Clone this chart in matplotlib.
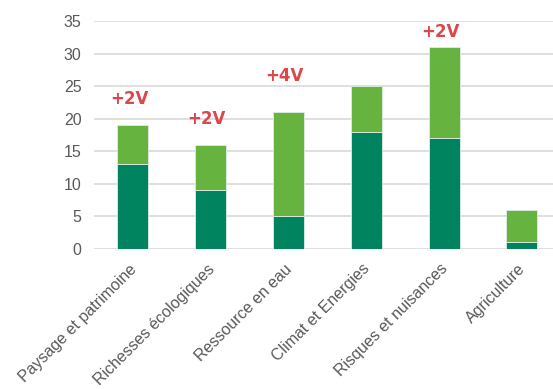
import matplotlib.pyplot as plt
import matplotlib.transforms as mtransforms
import numpy as np

plt.rcParams['font.family'] = ['Liberation Sans', 'DejaVu Sans']

categories = ["Paysage et patrimoine", "Richesses écologiques", "Ressource en eau",
              "Climat et Energies", "Risques et nuisances", "Agriculture"]
base = [13, 9, 5, 18, 17, 1]
extra = [6, 7, 16, 7, 14, 5]
bonus = ["+2V", "+2V", "+4V", "", "+2V", ""]
bonus_y = [23, 20, 26.6, 0, 33.3, 0]

dark = "#00845F"
light = "#66B33F"
red = "#D9484A"

fig = plt.figure(figsize=(5.53, 3.89), dpi=100)
ax = fig.add_axes([0.17, 0.36, 0.83, 0.586])

x = np.arange(len(categories))
ax.bar(x, base, width=0.4, color=dark, edgecolor="#dfeee6", linewidth=0.6, zorder=3)
ax.bar(x, extra, bottom=base, width=0.4, color=light, edgecolor="#dfeee6", linewidth=0.6, zorder=3)

for i, t in enumerate(bonus):
    if t:
        ax.text(x[i] - 0.05, bonus_y[i], t, ha="center", va="center", color=red,
                fontsize=12, fontweight="bold", family=["DejaVu Sans"])

ax.set_xlim(-0.5, 5.4)
ax.set_ylim(0, 35)
ax.set_yticks(range(0, 36, 5))
ax.grid(axis="y", color="#d9d9d9", linewidth=1.2, zorder=0)
ax.set_xticks(x)
ax.set_xticklabels(categories, rotation=45, ha="right", rotation_mode="anchor")
ax.tick_params(axis="both", length=0, labelsize=11.5, labelcolor="#595959")
ax.tick_params(axis="y", pad=9)
ax.tick_params(axis="x", pad=6)
# nudge the slanted labels a little down and left
shift = mtransforms.ScaledTranslation(-4 / 100, -4 / 100, fig.dpi_scale_trans)
for lab in ax.get_xticklabels():
    lab.set_transform(lab.get_transform() + shift)
for s in ax.spines.values():
    s.set_visible(False)

fig.savefig("out.png", dpi=100)
